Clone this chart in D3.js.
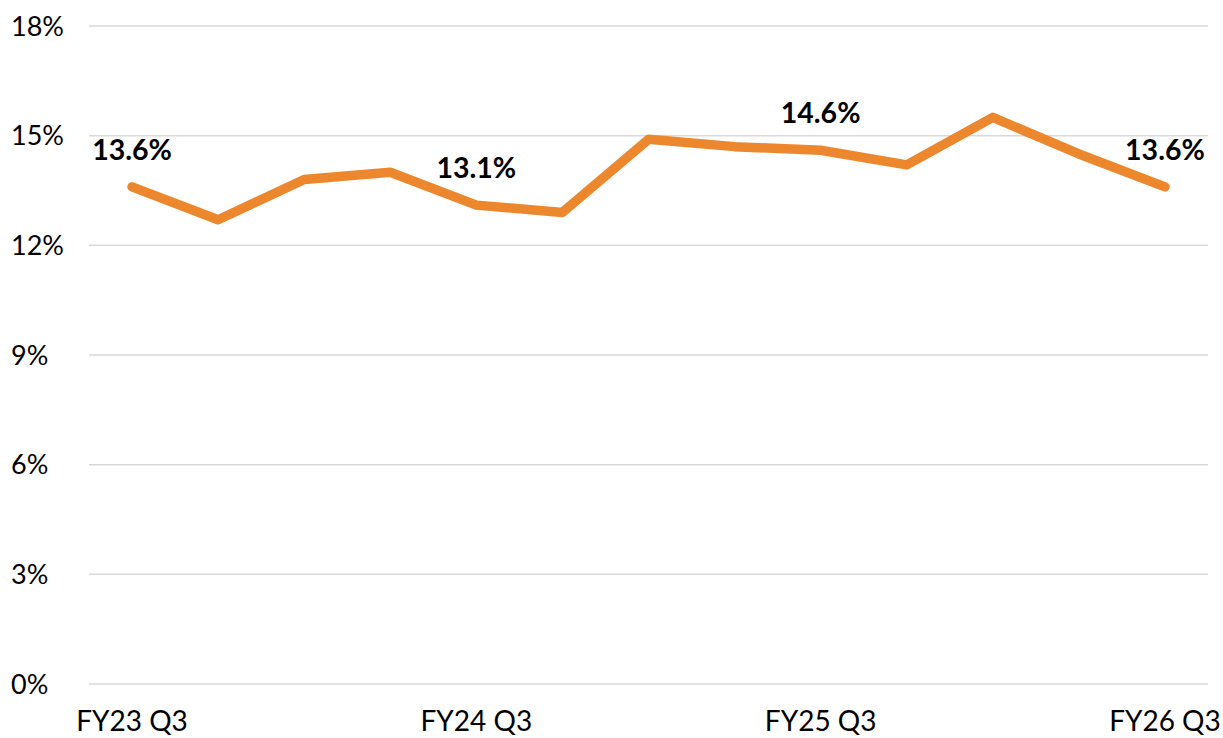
<!DOCTYPE html>
<html><head><meta charset="utf-8">
<script src="https://cdn.jsdelivr.net/npm/d3@7"></script>
<style>body{margin:0;background:#fff}svg{display:block}</style>
</head><body>
<svg id="c" width="1223" height="738"></svg>
<script>
const categories = ["FY23 Q3","FY23 Q4","FY24 Q1","FY24 Q2","FY24 Q3","FY24 Q4","FY25 Q1","FY25 Q2","FY25 Q3","FY25 Q4","FY26 Q1","FY26 Q2","FY26 Q3"];
const values = [13.6,12.7,13.8,14.0,13.1,12.9,14.9,14.7,14.6,14.2,15.5,14.5,13.6];
const labelled = ["FY23 Q3","FY24 Q3","FY25 Q3","FY26 Q3"];
const yTicks = [0,3,6,9,12,15,18];

(function(){
const svg = d3.select("#c");
const mLeft = 89, mRight = 1208, mTop = 26, mBottom = 684;
const x = d3.scalePoint().domain(categories).range([mLeft, mRight]).padding(0.5);
const y = d3.scaleLinear().domain([0,18]).range([mBottom, mTop]);
const font = "Lato, 'Open Sans', sans-serif";

svg.append("g").selectAll("line").data(yTicks).join("line")
  .attr("x1", mLeft).attr("x2", mRight)
  .attr("y1", d=>y(d)).attr("y2", d=>y(d))
  .attr("stroke", "#d9d9d9").attr("stroke-width", 1.5);

svg.append("g").selectAll("text").data(yTicks).join("text")
  .attr("x", 11).attr("y", d=>y(d)).attr("dy", "0.36em")
  .attr("font-family", font).attr("font-size", 27).attr("fill", "#000")
  .text(d=>d+"%");

svg.append("g").selectAll("text").data(labelled).join("text")
  .attr("x", d=>x(d)).attr("y", 731)
  .attr("text-anchor","middle")
  .attr("font-family", font).attr("font-size", 28).attr("fill", "#000")
  .text(d=>d);

const line = d3.line().x((d,i)=>x(categories[i])).y(d=>y(d));
svg.append("path").datum(values)
  .attr("d", line).attr("fill","none")
  .attr("stroke","#ED872D").attr("stroke-width", 9.5)
  .attr("stroke-linejoin","round").attr("stroke-linecap","round");

svg.append("g").selectAll("text").data(labelled).join("text")
  .attr("x", d=>x(d)).attr("y", d=>y(values[categories.indexOf(d)]) - 27)
  .attr("text-anchor","middle")
  .attr("font-family", font).attr("font-size", 28.5).attr("font-weight","bold").attr("fill","#000")
  .text(d=>values[categories.indexOf(d)].toFixed(1)+"%");
})();
</script>
</body></html>
